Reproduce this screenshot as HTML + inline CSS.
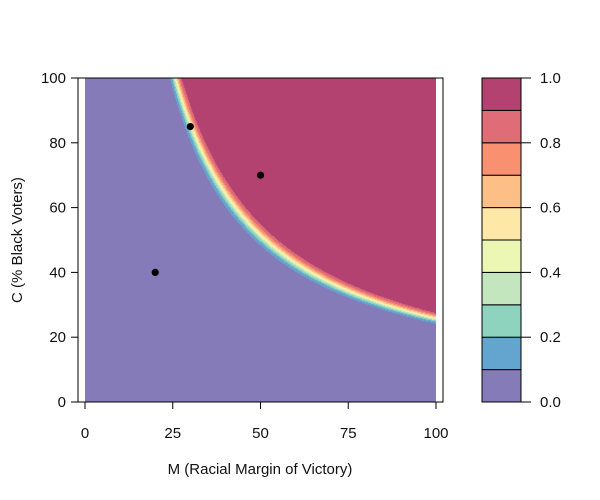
<!DOCTYPE html>
<html><head><meta charset="utf-8"><style>
body{margin:0;background:#fff;}
#wrap{position:relative;width:600px;height:500px;font-family:"Liberation Sans",sans-serif;}
canvas{position:absolute;left:85px;top:78px;}
svg{position:absolute;left:0;top:0;}
text{font-family:"Liberation Sans",sans-serif;font-size:15px;fill:#111;}
</style></head><body>
<div id="wrap">
<canvas id="heat" width="351" height="324"></canvas>
<svg id="svg" width="600" height="500"></svg>
</div>
<script>
const xTicks=[0,25,50,75,100];
const yTicks=[0,20,40,60,80,100];
const cbTicks=[0.0,0.2,0.4,0.6,0.8,1.0];
const binColors=["#857BB8","#63A5CF","#8DD3BE","#C3E6BE","#EBF7B3","#FEE8A8","#FDBF86","#F99170","#E06C78","#B44271"];
const pointsM=[20,30,50];
const pointsC=[40,85,70];
const modelThreshold=[2580];
const modelScale=[75];

const X0=85,X1=436,Y0=402,Y1=78;
const xs=v=>X0+(v-0)/100*(X1-X0);
const ys=v=>Y0-(v-0)/100*(Y0-Y1);
const NS="http://www.w3.org/2000/svg";
const svg=document.getElementById('svg');
function mk(t,a,txt){const e=document.createElementNS(NS,t);for(const k in a)e.setAttribute(k,a[k]);if(txt!==undefined)e.textContent=txt;svg.appendChild(e);return e;}

const cv=document.getElementById('heat');const ctx=cv.getContext('2d');
for(let px=0;px<351;px++){for(let py=0;py<324;py++){
  const M=(px+0.5)/351*100, C=(323.5-py)/324*100;
  const p=1/(1+Math.exp(-(M*C-modelThreshold[0])/modelScale[0]));
  const b=Math.min(9,Math.floor(p*10));
  ctx.fillStyle=binColors[b];ctx.fillRect(px,py,1,1);
}}

let e=mk('rect',{x:78,y:78,width:365,height:324,fill:'none',stroke:'#000','stroke-width':1});

xTicks.forEach(v=>{
  let t=mk('line',{x1:xs(v),x2:xs(v),y1:402,y2:409,stroke:'#000'});
  
  let l=mk('text',{x:xs(v),y:438,'text-anchor':'middle'},String(v));
  
});
yTicks.forEach(v=>{
  let t=mk('line',{x1:71,x2:78,y1:ys(v),y2:ys(v),stroke:'#000'});
  
  let l=mk('text',{x:66,y:ys(v)+5,'text-anchor':'end'},String(v));
  
});
e=mk('text',{x:260,y:474,'text-anchor':'middle'},'M (Racial Margin of Victory)');

e=mk('text',{x:22,y:240,'text-anchor':'middle',transform:'rotate(-90 22 240)'},'C (% Black Voters)');


pointsM.forEach((m,i)=>{
  let c=mk('circle',{cx:xs(m),cy:ys(pointsC[i]),r:3.6,fill:'#000'});
  
});

const CB0=402,CB1=78,CBX=482,CBW=39;
const cbs=v=>CB0-v*(CB0-CB1);
binColors.forEach((col,i)=>{
  let r=mk('rect',{x:CBX,y:cbs((i+1)/10),width:CBW,height:cbs(i/10)-cbs((i+1)/10),fill:col,stroke:'#000','stroke-width':1});
  
});
cbTicks.forEach(v=>{
  let t=mk('line',{x1:CBX+CBW,x2:CBX+CBW+10,y1:cbs(v),y2:cbs(v),stroke:'#000'});
  
  let l=mk('text',{x:540,y:cbs(v)+5},v.toFixed(1));
  
});
</script>
</body></html>
